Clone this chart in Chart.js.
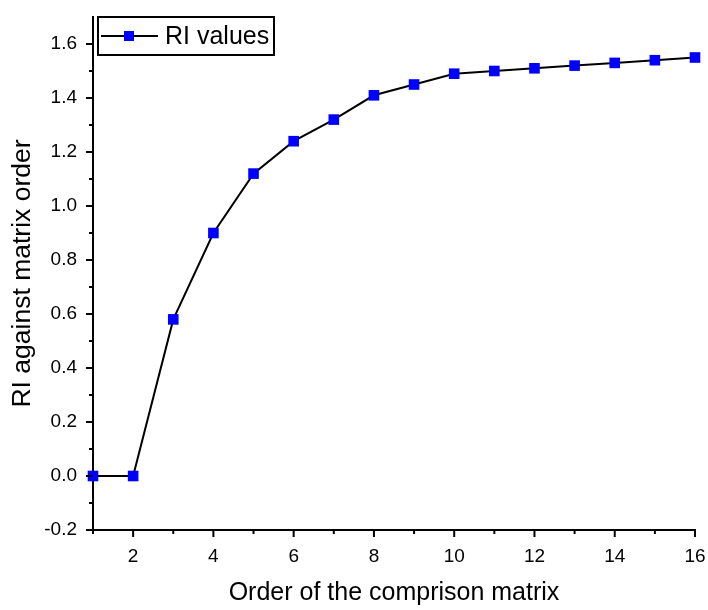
<!DOCTYPE html>
<html>
<head>
<meta charset="utf-8">
<script src="https://cdn.jsdelivr.net/npm/chart.js@4"></script>
<style>
  html, body { margin: 0; padding: 0; background: #fff; }
  #wrap { width: 708px; height: 610px; }
</style>
</head>
<body>
<div id="wrap"><canvas id="myChart" width="708" height="610"></canvas></div>
<script>
// matrix order and RI values
var orders = [1, 2, 3, 4, 5, 6, 7, 8, 9, 10, 11, 12, 13, 14, 15, 16];
var riValues = [0, 0, 0.58, 0.90, 1.12, 1.24, 1.32, 1.41, 1.45, 1.49, 1.50, 1.51, 1.52, 1.53, 1.54, 1.55];
var xTicks = [1, 2, 3, 4, 5, 6, 7, 8, 9, 10, 11, 12, 13, 14, 15, 16];
var yTicks = [-0.2, -0.1, 0, 0.1, 0.2, 0.3, 0.4, 0.5, 0.6, 0.7, 0.8, 0.9, 1.0, 1.1, 1.2, 1.3, 1.4, 1.5, 1.6, 1.7];

var FONT = 'Arial, "Liberation Sans", sans-serif';

// tick marks: long on labelled ticks, short on the others
var tickMarks = {
    id: 'tickMarks',
    afterDraw: function (chart) {
        var ctx = chart.ctx;
        var xs = chart.scales.x, ys = chart.scales.y;
        ctx.save();
        ctx.strokeStyle = '#000';
        ctx.lineWidth = 2;
        xTicks.forEach(function (v) {
            var px = xs.getPixelForValue(v);
            var len = (v % 2 === 0) ? 7 : 4;
            ctx.beginPath();
            ctx.moveTo(px, ys.bottom);
            ctx.lineTo(px, ys.bottom + len);
            ctx.stroke();
        });
        yTicks.forEach(function (v) {
            var py = ys.getPixelForValue(v);
            var major = Math.round(v * 10) % 2 === 0;
            if (v > 1.65) return;
            ctx.beginPath();
            ctx.moveTo(xs.left, py);
            ctx.lineTo(xs.left - (major ? 7 : 4), py);
            ctx.stroke();
        });
        ctx.restore();
    }
};

// framed legend inside the plot
var boxLegend = {
    id: 'boxLegend',
    afterDraw: function (chart) {
        var ctx = chart.ctx;
        var a = chart.chartArea;
        var ds = chart.data.datasets[0];
        var x = a.left + 5, y = a.top, w = 176, h = 38;
        ctx.save();
        ctx.fillStyle = '#fff';
        ctx.fillRect(x, y, w, h);
        ctx.strokeStyle = '#000';
        ctx.lineWidth = 2;
        ctx.strokeRect(x, y, w, h);
        var cy = y + h / 2;
        ctx.strokeStyle = ds.borderColor;
        ctx.lineWidth = ds.borderWidth;
        ctx.beginPath();
        ctx.moveTo(x + 3, cy);
        ctx.lineTo(x + 60, cy);
        ctx.stroke();
        ctx.fillStyle = ds.pointBackgroundColor;
        ctx.fillRect(x + 31 - 5, cy - 5, 10, 10);
        ctx.fillStyle = '#000';
        ctx.font = '25px ' + FONT;
        ctx.textBaseline = 'middle';
        ctx.fillText(ds.label, x + 67, cy + 1);
        ctx.restore();
    }
};

var ctx = document.getElementById("myChart").getContext('2d');
var myChart = new Chart(ctx, {
    type: 'line',
    data: {
        datasets: [{
            label: 'RI values',
            data: orders.map(function (o, i) { return { x: o, y: riValues[i] }; }),
            borderColor: '#000',
            borderWidth: 2,
            pointStyle: 'rect',
            pointRadius: 7.5,
            pointBackgroundColor: '#0000ff',
            pointBorderColor: '#0000ff',
            pointBorderWidth: 0,
            tension: 0,
            clip: false
        }]
    },
    options: {
        responsive: false,
        animation: false,
        layout: { padding: { top: 17, right: 13, left: 0, bottom: 0 } },
        plugins: {
            legend: { display: false },
            tooltip: { enabled: false }
        },
        scales: {
            x: {
                type: 'linear',
                min: 1,
                max: 16,
                afterBuildTicks: function (scale) {
                    scale.ticks = xTicks.map(function (v) { return { value: v }; });
                },
                afterFit: function (scale) {
                    scale.height = 80;
                    scale.paddingLeft = 0;
                    scale.paddingRight = 0;
                },
                grid: { display: false, drawTicks: true, tickLength: 7 },
                border: { display: true, color: '#000', width: 2 },
                ticks: {
                    color: '#000',
                    font: { family: FONT, size: 19 },
                    padding: 8,
                    maxRotation: 0,
                    autoSkip: false,
                    callback: function (v) { return v % 2 === 0 ? String(v) : ''; }
                },
                title: {
                    display: true,
                    text: 'Order of the comprison matrix',
                    color: '#000',
                    font: { family: FONT, size: 25 },
                    padding: { top: 0, bottom: 2 }
                }
            },
            y: {
                type: 'linear',
                min: -0.2,
                max: 1.7,
                afterBuildTicks: function (scale) {
                    scale.ticks = yTicks.map(function (v) { return { value: v }; });
                },
                afterFit: function (scale) {
                    scale.width = 93;
                    scale.paddingTop = 0;
                    scale.paddingBottom = 0;
                },
                grid: { display: false, drawTicks: true, tickLength: 7 },
                border: { display: true, color: '#000', width: 2 },
                ticks: {
                    color: '#000',
                    font: { family: FONT, size: 19 },
                    padding: 9,
                    autoSkip: false,
                    callback: function (v) {
                        var k = Math.round(v * 10);
                        if (k % 2 !== 0 || k > 16) return '';
                        return (k / 10).toFixed(1);
                    }
                },
                title: {
                    display: true,
                    text: 'RI against matrix order',
                    color: '#000',
                    font: { family: FONT, size: 26.5 },
                    padding: { top: 7, bottom: 0 }
                }
            }
        }
    },
    plugins: [tickMarks, boxLegend]
});
</script>
</body>
</html>
